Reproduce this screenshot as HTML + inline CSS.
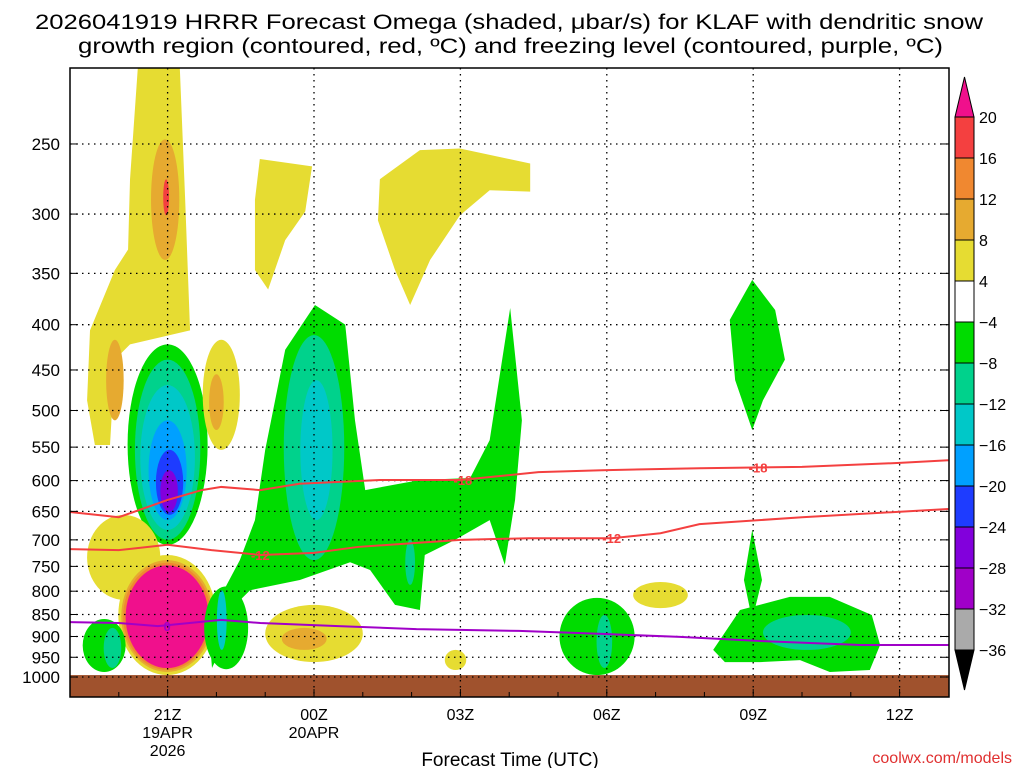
<!DOCTYPE html>
<html><head><meta charset="utf-8"><style>
html,body{margin:0;padding:0;background:#fff;}
svg{display:block;font-family:"Liberation Sans",sans-serif;}
</style></head><body>
<svg id="chart" width="1024" height="768" viewBox="0 0 1024 768" xmlns="http://www.w3.org/2000/svg">
<text x="35" y="29" font-size="21" textLength="948" lengthAdjust="spacingAndGlyphs">2026041919 HRRR Forecast Omega (shaded, μbar/s) for KLAF with dendritic snow</text>
<text x="78" y="53" font-size="21" textLength="865" lengthAdjust="spacingAndGlyphs">growth region (contoured, red, ºC) and freezing level (contoured, purple, ºC)</text>
<g id="fills"></g>
<g id="grid"></g>
<g id="clines"></g>
<rect x="70" y="68" width="879" height="629" fill="none" stroke="#000" stroke-width="1.5"/>
<g id="axes"></g>
<g id="cbar"></g>
<text x="510" y="766" font-size="19" text-anchor="middle">Forecast Time (UTC)</text>
<text x="1012" y="763" font-size="16" fill="#e03030" text-anchor="end">coolwx.com/models</text>
</svg>
<script>
const colors = {y:'#e6dc32',o:'#e6aa30',r:'#f08830',R:'#f44040',m:'#f0108c',g:'#00dc00',t:'#00d28c',c:'#00c8c8',b:'#00a0ff',d:'#1e3cff',p:'#8200dc',v:'#a000c8'};
const pressureTicks = [250,300,350,400,450,500,550,600,650,700,750,800,850,900,950,1000];
const timeTicks = [21,24,27,30,33,36];
const timeLabels = ['21Z','00Z','03Z','06Z','09Z','12Z'];
const dateLabels = {21:['19APR','2026'],24:['20APR']};
const polys = [
 ['y',[[20.39,205],[21.25,205],[21.36,289],[21.46,406],[20.23,421],[19.92,438],[19.82,547],[19.51,547],[19.35,487],[19.41,406],[19.92,347],[20.19,329],[20.23,274]]],
 ['y',[[22.89,260],[23.96,265],[23.82,298],[23.41,321],[23.06,365],[22.79,347],[22.79,289]]],
 ['y',[[25.35,274],[26.17,254],[26.99,253],[28.43,263],[28.43,283],[27.6,282],[26.99,301],[26.38,338],[25.97,380],[25.66,347],[25.31,305]]],
 ['g',[[24.02,380],[24.64,400],[24.84,513],[25.05,615],[26.17,599],[27.2,596],[27.6,540],[28.02,383],[28.26,513],[28.12,631],[27.91,747],[27.6,665],[26.89,700],[26.27,728],[26.17,840],[25.66,829],[25.15,757],[24.74,742],[23.71,777],[22.69,798],[22.28,840],[22.18,908],[21.91,977],[21.83,862],[22.48,738],[22.79,665],[23.0,554],[23.41,427]]],
 ['g',[[32.98,356],[33.45,385],[33.65,438],[33.2,487],[32.98,526],[32.63,462],[32.52,395]]],
 ['g',[[32.98,682],[33.18,777],[32.98,862],[32.81,777]]],
 ['g',[[32.18,932],[32.73,840],[33.75,812],[34.57,812],[35.43,851],[35.6,920],[35.39,982],[34.57,987],[33.96,957],[33.14,962],[32.42,962]]]
];
const blobs = [
 ['o',20.95,0.29,247,338],['R',20.97,0.06,274,301],['o',19.92,0.18,416,513],
 ['g',21.0,0.82,421,709],['t',21.0,0.67,438,700],['c',21.0,0.56,468,682],['b',21.0,0.39,513,665],['d',21.04,0.28,554,656],['p',21.03,0.18,584,651],
 ['y',22.1,0.38,416,554],['o',22.0,0.15,455,526],
 ['y',20.1,0.75,656,818],
 ['y',20.99,1.0,728,995],['o',20.99,0.94,738,987],['r',20.99,0.9,743,982],['m',20.99,0.85,748,977],
 ['g',19.7,0.44,860,987],['t',19.87,0.18,880,977],
 ['t',24.0,0.62,411,738],['c',24.05,0.33,462,665],['t',25.97,0.1,700,787],['g',22.2,0.45,790,980],['c',22.11,0.1,798,932],
 ['y',24.0,1.0,829,962],['o',23.8,0.46,880,932],['y',26.9,0.22,932,982],['y',31.1,0.56,781,836],
 ['g',29.8,0.77,814,995],['t',29.95,0.16,851,977],['t',34.1,0.9,851,932]
];
const line18 = [[19,651],[20,660],[21,631],[21.7,615],[22.1,610],[22.9,615],[23.7,605],[25.35,599],[27,599],[28.6,587],[29.9,584],[31.9,581],[34,579],[36,573],[37,569]];
const line12 = [[19,717],[20,719],[21,709],[21.9,719],[22.9,728],[24,724],[24.9,713],[27,700],[28.4,697],[30.1,697],[31.1,688],[31.9,672],[34,660],[37,646]];
const line0 = [[19,867],[20,869],[20.8,876],[22.1,862],[22.9,869],[24.5,876],[26.1,883],[28.2,887],[29.9,894],[31.5,901],[33.2,911],[35.2,920],[37,920]];
const lineLabels = [['-18',27.05,599,'#f44040'],['-18',33.1,580,'#f44040'],['-12',22.9,728,'#f44040'],['-12',30.1,697,'#f44040'],['0',20.99,876,'#a000c8']];
const cbLevels = ['20','16','12','8','4','-4','-8','-12','-16','-20','-24','-28','-32','-36'];
const cbColors = ['#f44040','#f08830','#e6aa30','#e6dc32','#ffffff','#00dc00','#00d28c','#00c8c8','#00a0ff','#1e3cff','#8200dc','#a000c8','#aaaaaa'];

const NS='http://www.w3.org/2000/svg';
const X = h => 70 + (h-19)*48.8;
const Y = p => 677 - 384.5*Math.log(1000/p);
function mk(tag, attrs, parent){const e=document.createElementNS(NS,tag);for(const k in attrs)e.setAttribute(k,attrs[k]);parent.appendChild(e);return e;}
const fills=document.getElementById('fills');
mk('rect',{x:70,y:68,width:879,height:629,fill:'#fff'},fills);
polys.forEach(([c,pts])=>{
 const e=mk('polygon',{points:pts.map(q=>X(q[0])+','+Y(q[1])).join(' '),fill:colors[c],'stroke-linejoin':'round'},fills);
 
 
});
blobs.forEach(([c,h,hw,pt,pb])=>{
 const y1=Y(pt),y2=Y(pb);
 const e=mk('ellipse',{cx:X(h),cy:(y1+y2)/2,rx:hw*48.8,ry:(y2-y1)/2,fill:colors[c]},fills);
 
 
});
const gr=mk('rect',{x:70,y:Y(995),width:879,height:697-Y(995),fill:'#a0522d'},fills);



const grid=document.getElementById('grid'), axes=document.getElementById('axes');
pressureTicks.forEach(p=>{
 mk('line',{x1:70,x2:949,y1:Y(p),y2:Y(p),stroke:'#000','stroke-dasharray':'1.5,4.5','stroke-width':1.3},grid);
 mk('line',{x1:70,x2:78,y1:Y(p),y2:Y(p),stroke:'#000'},axes);
 mk('line',{x1:941,x2:949,y1:Y(p),y2:Y(p),stroke:'#000'},axes);
 const t=mk('text',{x:60,y:Y(p)+6,'font-size':17,'text-anchor':'end'},axes);
 t.textContent=p;
 
 
});
timeTicks.forEach((h,i)=>{
 mk('line',{x1:X(h),x2:X(h),y1:68,y2:697,stroke:'#000','stroke-dasharray':'1.5,4.5','stroke-width':1.3},grid);
 mk('line',{x1:X(h),x2:X(h),y1:689,y2:697,stroke:'#000'},axes);
 const t=mk('text',{x:X(h),y:720,'font-size':16,'text-anchor':'middle'},axes);
 t.textContent=timeLabels[i];
 
 
 (dateLabels[h]||[]).forEach((d,j)=>{
  const s=mk('text',{x:X(h),y:738+j*18,'font-size':16,'text-anchor':'middle'},axes);
  s.textContent=d;
  
  
 });
});
for(let h=20;h<=36;h++){ if(!timeTicks.includes(h)) mk('line',{x1:X(h),x2:X(h),y1:692,y2:697,stroke:'#000'},axes); }

const clines=document.getElementById('clines');
[[line18,'#f44040','dgz-minus18-contour'],[line12,'#f44040','dgz-minus12-contour'],[line0,'#a000c8','freezing-level-contour']].forEach(([d,c,n])=>{
 const e=mk('polyline',{points:d.map(q=>X(q[0])+','+Y(q[1])).join(' '),fill:'none',stroke:c,'stroke-width':2},clines);
 
 
});
lineLabels.forEach(([s,h,p,c])=>{
 const t=mk('text',{x:X(h),y:Y(p)+5,'font-size':13,'font-weight':'bold',fill:c,'text-anchor':'middle'},clines);
 t.textContent=s;
 
 
});

const cb=document.getElementById('cbar');
const cx0=955,cw=19,cbTop=117,step=41;
mk('polygon',{points:`${cx0},${cbTop} ${cx0+cw},${cbTop} ${cx0+cw/2},77`,fill:'#f0108c',stroke:'#000'},cb);
cbColors.forEach((c,i)=>{
 const r=mk('rect',{x:cx0,y:cbTop+i*step,width:cw,height:step,fill:c,stroke:'#000'},cb);
 
 
});
const cbBot=cbTop+cbColors.length*step;
mk('polygon',{points:`${cx0},${cbBot} ${cx0+cw},${cbBot} ${cx0+cw/2},690`,fill:'#000',stroke:'#000'},cb);
cbLevels.forEach((l,i)=>{
 const t=mk('text',{x:979,y:cbTop+i*step+6,'font-size':16},cb);
 t.textContent=l.replace('-','\u2212');
 
 
});
</script>
</body></html>
